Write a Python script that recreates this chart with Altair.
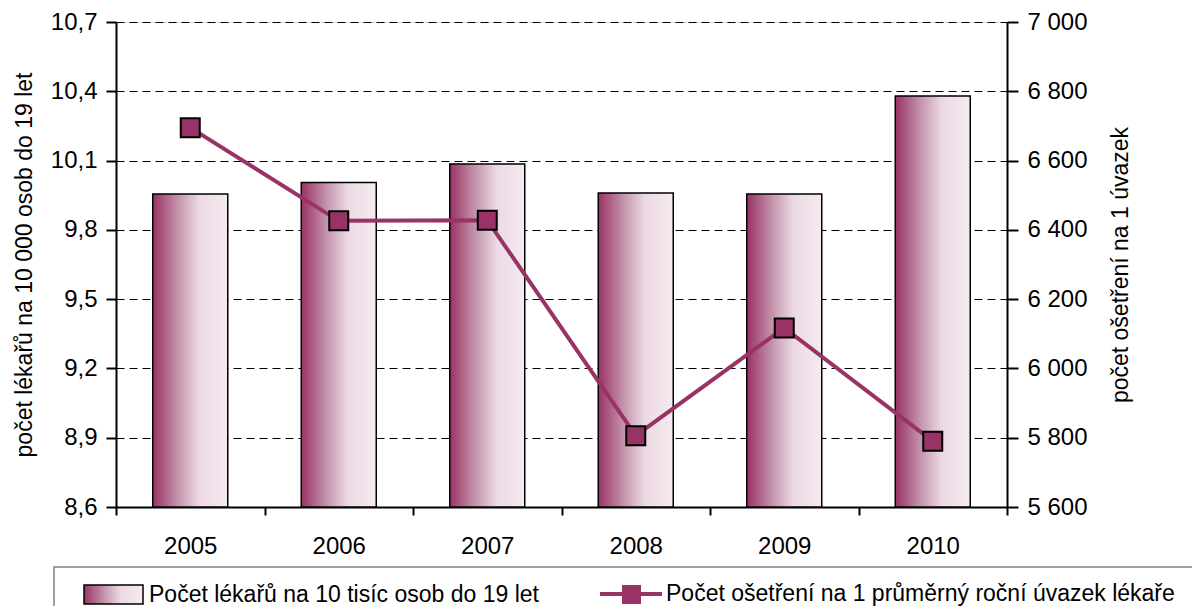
import altair as alt
import pandas as pd

years = ["2005", "2006", "2007", "2008", "2009", "2010"]
doctors = [9.955, 10.005, 10.085, 9.96, 9.955, 10.38]
treatments = [6695, 6426, 6428, 5806, 6117, 5790]

bar_label = "Počet lékařů na 10 tisíc osob do 19 let"
line_label = "Počet ošetření na 1 průměrný roční úvazek lékaře"
left_title = "počet lékařů na 10 000 osob do 19 let"
right_title = "počet ošetření na 1 úvazek"
chart_title = "Zlínský kraj"

left_ticks = [8.6, 8.9, 9.2, 9.5, 9.8, 10.1, 10.4, 10.7]
right_ticks = [5600, 5800, 6000, 6200, 6400, 6600, 6800, 7000]

FONT = "Liberation Sans Narrow, Arial Narrow, Liberation Sans, Arial, sans-serif"
MAROON = "#993366"

df = pd.DataFrame({
    "year": years,
    "doctors": doctors,
    "treatments": treatments,
    "bar_series": [bar_label] * len(years),
    "line_series": [line_label] * len(years),
    "pt_series": ["pt"] * len(years),
})

grad = alt.Gradient(
    gradient="linear",
    x1=0, x2=1, y1=0, y2=0,
    stops=[
        alt.GradientStop(offset=0, color="#993366"),
        alt.GradientStop(offset=0.35, color="#c597ae"),
        alt.GradientStop(offset=0.62, color="#ecd9e3"),
        alt.GradientStop(offset=1, color="#f5ebf1"),
    ],
)

x_enc = alt.X(
    "year:N",
    sort=years,
    scale=alt.Scale(paddingInner=0, paddingOuter=0),
    axis=alt.Axis(
        title=None, labelAngle=0, tickBand="extent", tickSize=8, tickWidth=2,
        domainWidth=2, domainColor="black", tickColor="black", labelPadding=19,
        labelFont=FONT, labelFontSize=24, labelColor="black", grid=False,
    ),
)

bars = alt.Chart(df).mark_bar(
    width=alt.RelativeBandSize(0.505), strokeWidth=1.5
).encode(
    x=x_enc,
    y=alt.Y(
        "doctors:Q",
        scale=alt.Scale(domain=[8.6, 10.7], nice=False, zero=False),
        axis=alt.Axis(
            values=left_ticks,
            labelExpr="replace(format(datum.value, '.1f'), '.', ',')",
            title=left_title, titleFont=FONT, titleFontSize=23, titleFontWeight="normal",
            titleColor="black", titlePadding=14,
            labelFont=FONT, labelFontSize=24, labelColor="black", labelPadding=9,
            tickSize=10, tickWidth=2, tickColor="black",
            domainWidth=2, domainColor="black",
            grid=True, gridColor="black", gridDash=[8, 5], gridWidth=1,
        ),
    ),
    y2=alt.datum(8.6),
    fill=alt.value(grad),
    stroke=alt.Stroke(
        "bar_series:N",
        scale=alt.Scale(domain=[bar_label], range=["black"]),
        legend=alt.Legend(
            title=None, orient="none", legendX=-33, legendY=542, padding=0,
            symbolType="M-1,-0.32H1V0.32H-1Z", symbolSize=3481,
            symbolStrokeWidth=1.5, labelOffset=5, labelLimit=0,
            labelFont=FONT, labelFontSize=23, labelColor="black",
        ),
    ),
)

line = alt.Chart(df).mark_line(strokeWidth=4).encode(
    x=alt.X("year:N", sort=years),
    y=alt.Y(
        "treatments:Q",
        scale=alt.Scale(domain=[5600, 7000], nice=False, zero=False),
        axis=alt.Axis(
            orient="right", values=right_ticks,
            labelExpr="replace(format(datum.value, ','), ',', ' ')",
            title=right_title, titleFont=FONT, titleFontSize=23, titleFontWeight="normal",
            titleColor="black", titleAngle=270, titleBaseline="top", titlePadding=22,
            labelFont=FONT, labelFontSize=24, labelColor="black", labelPadding=9,
            tickSize=11, tickWidth=2, tickColor="black",
            domainWidth=2, domainColor="black", grid=False,
        ),
    ),
    color=alt.Color(
        "line_series:N",
        scale=alt.Scale(domain=[line_label], range=[MAROON]),
        legend=alt.Legend(
            title=None, orient="none", legendX=482, legendY=539, padding=0,
            symbolType="stroke", symbolSize=3844, symbolStrokeWidth=4,
            labelOffset=2, labelLimit=0,
            labelFont=FONT, labelFontSize=23, labelColor="black",
        ),
    ),
)

points = alt.Chart(df).mark_point(
    filled=True, size=361, fill=MAROON, stroke="black", strokeWidth=2, opacity=1
).encode(
    x=alt.X("year:N", sort=years),
    y=alt.Y("treatments:Q"),
    shape=alt.Shape(
        "pt_series:N",
        scale=alt.Scale(domain=["pt"], range=["square"]),
        legend=alt.Legend(
            title=None, orient="none", legendX=504, legendY=561, padding=0,
            symbolSize=361, symbolStrokeWidth=2, symbolFillColor=MAROON,
            symbolStrokeColor="black", labelExpr="''",
            labelFont=FONT, labelFontSize=23,
        ),
    ),
)

frame = alt.Chart(pd.DataFrame({"a": [0]})).mark_rect(
    fill="white", fillOpacity=0, stroke="#808080", strokeWidth=1.5
).encode(
    x=alt.value(-62), x2=alt.value(1200), y=alt.value(545), y2=alt.value(700)
)

chart = alt.layer(
    bars, alt.layer(line, points), frame
).resolve_scale(
    y="independent"
).properties(
    width=891,
    height=485,
    autosize=alt.AutoSizeParams(type="none"),
    padding={"left": 108, "top": 14, "right": 185, "bottom": 99},
    title=alt.TitleParams(
        chart_title, font="Liberation Sans, Arial, sans-serif", fontSize=28,
        fontWeight="bold", color="black", offset=8, dx=58, anchor="middle",
    ),
).configure_view(
    stroke="black", strokeWidth=2
).configure(
    background="white"
)

chart.save("out.html", embed_options={"renderer": "svg", "actions": False})
